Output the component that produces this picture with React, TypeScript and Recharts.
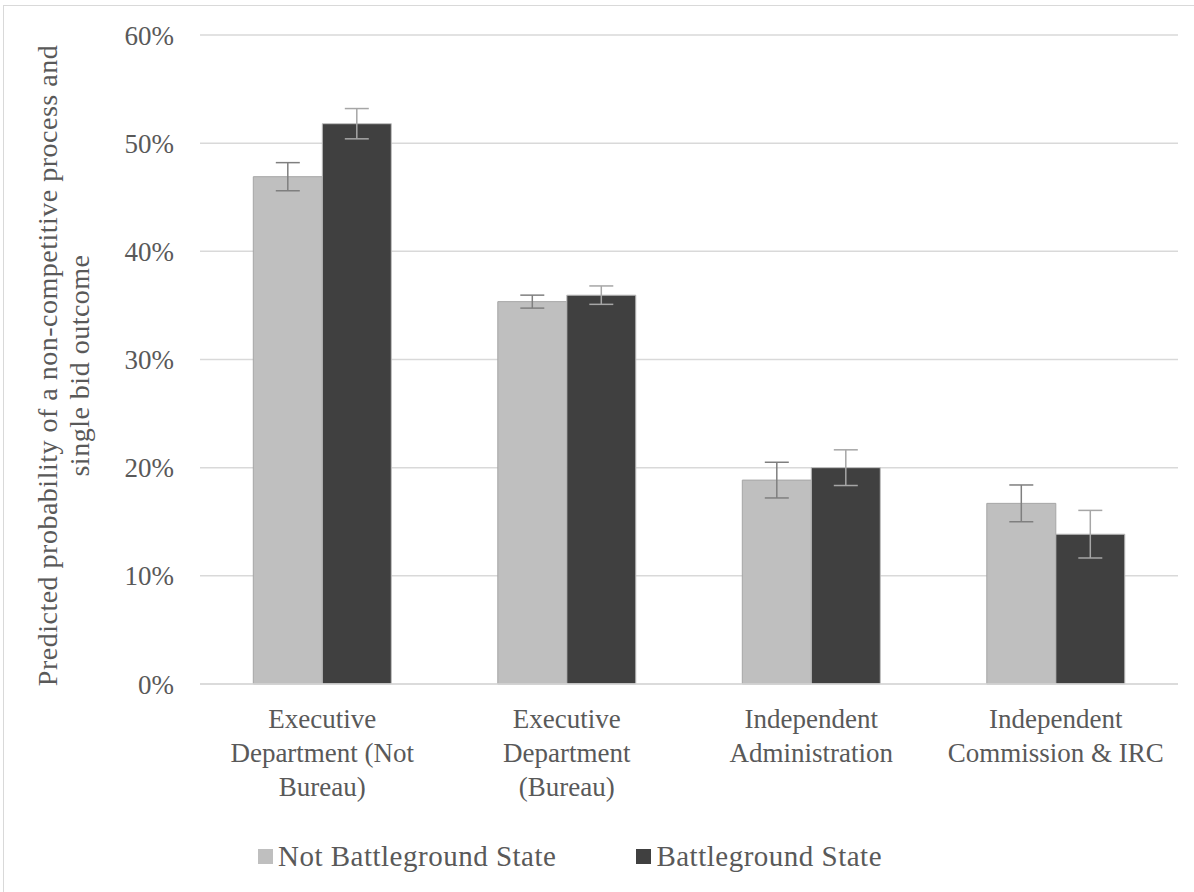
import React from "react";
import { BarChart, Bar, XAxis, YAxis, CartesianGrid, ErrorBar, Label } from "recharts";

const categoryLines: string[][] = [
  ["Executive", "Department (Not", "Bureau)"],
  ["Executive", "Department", "(Bureau)"],
  ["Independent", "Administration"],
  ["Independent", "Commission & IRC"],
];
const notBattleground = [46.9, 35.35, 18.85, 16.7];
const notBattlegroundErr = [1.3, 0.6, 1.65, 1.7];
const battleground = [51.8, 35.95, 20.0, 13.85];
const battlegroundErr = [1.4, 0.85, 1.65, 2.2];
const yTicks = [0, 10, 20, 30, 40, 50, 60];
const seriesNames = ["Not Battleground State", "Battleground State"];
const yLabelLines = ["Predicted probability of a non-competitive process and", "single bid outcome"];

const data = categoryLines.map((lines, i) => ({
  name: lines.join(" "),
  idx: i,
  notBg: notBattleground[i],
  notBgErr: notBattlegroundErr[i],
  bg: battleground[i],
  bgErr: battlegroundErr[i],
}));

const FONT = "'Liberation Serif', 'Times New Roman', serif";
const TEXT = "#595959";
const LIGHT = "#bfbfbf";
const DARK = "#404040";

const CatTick = (props: any) => {
  const { x, y, payload } = props;
  const lines = categoryLines[payload.index] || [String(payload.value)];
  return (
    <g>
      {lines.map((l, k) => (
        <text key={k} x={x} y={y + 44 + k * 34} textAnchor="middle" fill={TEXT} fontFamily={FONT} fontSize={27}>
          {l}
        </text>
      ))}
    </g>
  );
};

const YLab = (props: any) => {
  const vb = props.viewBox || { x: 0, y: 35, width: 200, height: 649 };
  const cy = vb.y + vb.height / 2 + 6;
  const xs = [57, 89];
  return (
    <g>
      {yLabelLines.map((l, k) => (
        <text key={k} x={xs[k]} y={cy} transform={`rotate(-90 ${xs[k]} ${cy})`} textAnchor="middle" fill={TEXT} fontFamily={FONT} fontSize={28} letterSpacing={0.5}>
          {l}
        </text>
      ))}
    </g>
  );
};

const LegendBox = () => (
  <div style={{ position: "absolute", left: 0, top: 838, width: 1140, display: "flex", justifyContent: "center", alignItems: "center", fontFamily: FONT, fontSize: 29, letterSpacing: 0.5, color: TEXT, lineHeight: "36px" }}>
    {seriesNames.map((n, i) => (
      <div key={n} style={{ display: "flex", alignItems: "center", marginRight: i === 0 ? 80 : 0 }}>
        <span style={{ display: "inline-block", width: 15, height: 15, background: i === 0 ? LIGHT : DARK, marginRight: 5 }} />
        <span>{n}</span>
      </div>
    ))}
  </div>
);

export default function App() {
  return (
    <div style={{ position: "absolute", left: 0, top: 0, width: 1194, height: 892, overflow: "hidden", background: "#fff" }}>
      <div style={{ position: "absolute", left: 3, top: 5, width: 1300, height: 1000, border: "1.5px solid #d9d9d9" }} />
      <div style={{ position: "absolute", left: 0, top: 0 }}>
        <BarChart
          width={1194}
          height={892}
          data={data}
          margin={{ top: 35, right: 16, bottom: 0, left: 0 }}
          barGap={0}
          barCategoryGap="21.8%"
        >
          <CartesianGrid vertical={false} stroke="#d9d9d9" strokeWidth={1.5} />
          <XAxis
            dataKey="name"
            tick={<CatTick />}
            tickLine={false}
            axisLine={{ stroke: "#d9d9d9", strokeWidth: 1.5 }}
            tickSize={0}
            tickMargin={0}
            interval={0}
            height={208}
          />
          <YAxis
            width={200}
            domain={[0, 60]}
            ticks={yTicks}
            tickFormatter={(v: number) => `${v}%`}
            axisLine={false}
            tickLine={false}
            tickSize={6}
            tickMargin={20}
            tick={{ fill: TEXT, fontFamily: FONT, fontSize: 27 }}
          >
            <Label content={<YLab />} />
          </YAxis>
          <Bar dataKey="notBg" name={seriesNames[0]} fill={LIGHT} stroke="#a6a6a6" strokeWidth={1} isAnimationActive={false}>
            <ErrorBar dataKey="notBgErr" width={12} stroke="#7f7f7f" strokeWidth={1.5} direction="y" />
          </Bar>
          <Bar dataKey="bg" name={seriesNames[1]} fill={DARK} stroke="#bfbfbf" strokeWidth={1} isAnimationActive={false}>
            <ErrorBar dataKey="bgErr" width={12} stroke="#a6a6a6" strokeWidth={1.5} direction="y" />
          </Bar>
        </BarChart>
      </div>
      <LegendBox />
    </div>
  );
}
